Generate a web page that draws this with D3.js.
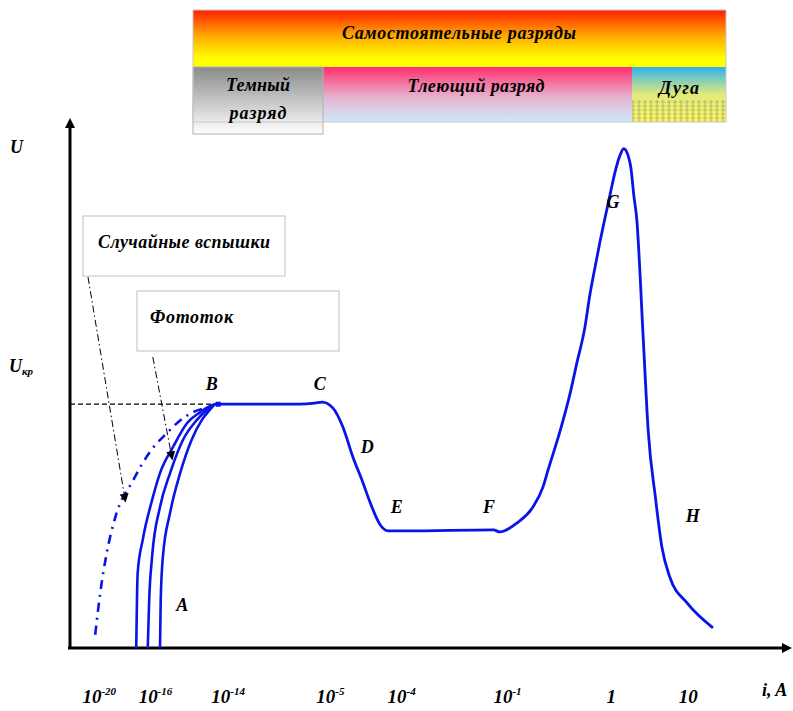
<!DOCTYPE html>
<html>
<head>
<meta charset="utf-8">
<script src="https://cdn.jsdelivr.net/npm/d3@7"></script>
<style>
  body { margin: 0; background: #fff; }
  svg { display: block; }
  text { font-family: "Liberation Serif", "DejaVu Serif", serif; font-style: italic; font-weight: bold; fill: #000; }
</style>
</head>
<body>
<script>
// x: relative log-current position (0..100), y: relative voltage (0..100)
const tickPos = [4.0, 11.8, 21.9, 36.1, 46.0, 60.7, 75.1, 85.8];
const tickBase = ['10', '10', '10', '10', '10', '10', '1', '10'];
const tickExp = ['-20', '-16', '-14', '-5', '-4', '-1', '', ''];

const uBreakdown = 46.0;

// B -> C -> D -> E -> F -> G -> H
const mainCurve = [
  [20.1, 46.0], [31.9, 46.0], [34.0, 46.2], [35.0, 46.4], [36.5, 45.3], [37.9, 41.7],
  [39.3, 36.0], [40.6, 31.5], [41.7, 27.4], [43.1, 23.2], [44.2, 22.1], [46.8, 22.1],
  [58.8, 22.3], [59.7, 21.9], [62.1, 23.6], [64.3, 26.6], [65.7, 30.4], [66.4, 33.6],
  [68.1, 41.1], [69.4, 47.7], [70.4, 53.8], [71.5, 60.4], [72.2, 66.6], [72.9, 71.7],
  [73.6, 76.6], [74.3, 81.1], [75.0, 85.5], [75.7, 89.8], [76.4, 93.0], [76.9, 94.2],
  [77.5, 93.0], [77.9, 90.6], [78.3, 85.5], [78.75, 80.4], [79.2, 69.8], [79.45, 62.8],
  [79.7, 56.2], [80.3, 41.1], [81.3, 28.5], [82.2, 19.1], [83.3, 13.4], [85.7, 8.5],
  [89.3, 3.8]
];

// photocurrent curves (A -> B)
const photoCurves = [
  [[9.2, 0], [9.3, 9.1], [9.4, 14.2], [10.1, 20.4], [11.4, 27.9], [12.5, 33.0], [14.3, 37.9], [16.3, 42.5], [18.1, 44.5], [19.2, 45.5], [20.1, 46.0]],
  [[10.8, 0], [11.0, 9.1], [11.4, 17.2], [12.5, 26.6], [13.9, 33.0], [15.7, 39.3], [17.6, 43.0], [19.0, 44.9], [20.1, 46.0]],
  [[12.5, 0], [12.6, 9.1], [12.9, 17.2], [13.9, 25.5], [15.3, 33.0], [16.9, 39.3], [18.3, 43.0], [19.4, 44.9], [20.1, 46.0]]
];

// random bursts curve (dash-dot)
const burstCurve = [
  [3.5, 2.5], [4.2, 10.4], [5.1, 17.9], [6.3, 24.7], [8.8, 31.7], [10.1, 34.9],
  [11.5, 37.7], [13.5, 40.6], [15.0, 42.6], [17.1, 44.5], [19.0, 45.3]
];

const pointLabels = ['A', 'B', 'C', 'D', 'E', 'F', 'G', 'H'];
const pointLabelPos = [[15.6, 7.0], [19.7, 48.6], [34.7, 48.6], [41.3, 36.7], [45.4, 25.4], [58.2, 25.4], [75.4, 83.0], [86.5, 23.8]];

const notes = ['Случайные вспышки', 'Фототок'];
const noteArrows = [[[2.5, 70.0], [7.7, 27.6]], [[11.5, 54.9], [14.2, 35.6]]];

const W = 793, H = 711;
const x = d3.scaleLinear().domain([0, 100]).range([70, 790]);
const y = d3.scaleLinear().domain([0, 100]).range([648, 118]);

const svg = d3.select('body').append('svg')
  .attr('width', W)
  .attr('height', H);

svg.append('rect').attr('width', W).attr('height', H).attr('fill', '#fff');

const defs = svg.append('defs');

function vGrad(id, stops) {
  const g = defs.append('linearGradient').attr('id', id)
    .attr('x1', 0).attr('y1', 0).attr('x2', 0).attr('y2', 1);
  stops.forEach(s => g.append('stop').attr('offset', s[0]).attr('stop-color', s[1]));
}
vGrad('gSelf', [[0, '#ff1e00'], [0.45, '#ffa800'], [0.85, '#ffff00'], [1, '#ffff00']]);
vGrad('gDark', [[0, '#8a8a8a'], [1, '#ffffff']]);
vGrad('gGlow', [[0, '#ff2d6e'], [0.55, '#e7b4d0'], [1, '#cde8fa']]);
vGrad('gArc', [[0, '#2eb2ee'], [0.5, '#e2ea7a'], [1, '#f7f35a']]);

const pat = defs.append('pattern').attr('id', 'dots')
  .attr('width', 6).attr('height', 4).attr('patternUnits', 'userSpaceOnUse');
pat.append('circle').attr('cx', 3).attr('cy', 2).attr('r', 1.2)
  .attr('fill', 'none').attr('stroke', '#9a9a70').attr('stroke-width', 0.7);

defs.append('marker').attr('id', 'arrow')
  .attr('viewBox', '0 0 10 10').attr('refX', 9).attr('refY', 5)
  .attr('markerWidth', 9).attr('markerHeight', 9)
  .attr('markerUnits', 'userSpaceOnUse')
  .attr('orient', 'auto')
  .append('path').attr('d', 'M0,0 L10,5 L0,10 z').attr('fill', '#000');

// ---- banner of discharge types
const banner = svg.append('g');
banner.append('rect').attr('x', 193).attr('y', 10).attr('width', 533).attr('height', 57)
  .attr('fill', 'url(#gSelf)');
banner.append('rect').attr('x', 323).attr('y', 67).attr('width', 309).attr('height', 55)
  .attr('fill', 'url(#gGlow)');
banner.append('rect').attr('x', 632).attr('y', 67).attr('width', 94).attr('height', 55)
  .attr('fill', 'url(#gArc)');
banner.append('rect').attr('x', 632).attr('y', 100).attr('width', 94).attr('height', 22)
  .attr('fill', 'url(#dots)');
banner.append('rect').attr('x', 193).attr('y', 67).attr('width', 130).attr('height', 67)
  .attr('fill', 'url(#gDark)').attr('stroke', '#b0b0b0').attr('stroke-width', 1);
banner.append('rect').attr('x', 193).attr('y', 10).attr('width', 533).attr('height', 112)
  .attr('fill', 'none').attr('stroke', '#c8c8c8').attr('stroke-width', 1);

banner.append('text').attr('x', 459).attr('y', 39).attr('text-anchor', 'middle')
  .attr('font-size', 18).attr('textLength', 234).text('Самостоятельные разряды');
banner.append('text').attr('x', 476).attr('y', 92).attr('text-anchor', 'middle')
  .attr('font-size', 18).attr('textLength', 137).text('Тлеющий разряд');
banner.append('text').attr('x', 679).attr('y', 94).attr('text-anchor', 'middle')
  .attr('font-size', 18).attr('textLength', 40).text('Дуга');
banner.append('text').attr('x', 258).attr('y', 91).attr('text-anchor', 'middle')
  .attr('font-size', 18).attr('textLength', 64).text('Темный');
banner.append('text').attr('x', 258).attr('y', 119).attr('text-anchor', 'middle')
  .attr('font-size', 18).attr('textLength', 57).text('разряд');

// ---- axes
const xAxis = d3.axisBottom(x).tickValues(tickPos).tickSize(0).tickFormat('');
const gx = svg.append('g').attr('transform', `translate(0,${y(0)})`).call(xAxis);
gx.select('.domain').attr('stroke', '#000').attr('stroke-width', 3)
  .attr('d', `M${x(0) - 2},0H${x(100) - 6}`);
gx.selectAll('.tick text').remove();
gx.selectAll('.tick').append('text')
  .attr('y', 55)
  .attr('text-anchor', 'middle')
  .attr('font-size', 19)
  .each(function(d, i) {
    const t = d3.select(this);
    t.append('tspan').text(tickBase[i]);
    if (tickExp[i]) {
      t.append('tspan').attr('dy', -8).attr('font-size', 11).text(tickExp[i]);
    }
  });
svg.append('path')
  .attr('d', `M${x(100) - 8},${y(0) - 5}L${x(100) + 2},${y(0)}L${x(100) - 8},${y(0) + 5}Z`)
  .attr('fill', '#000');

svg.append('line')
  .attr('x1', x(0)).attr('x2', x(0))
  .attr('y1', y(0) + 1).attr('y2', y(100) + 8)
  .attr('stroke', '#000').attr('stroke-width', 3);
svg.append('path')
  .attr('d', `M${x(0) - 5},${y(100) + 10}L${x(0)},${y(100)}L${x(0) + 5},${y(100) + 10}Z`)
  .attr('fill', '#000');

svg.append('text').attr('x', 762).attr('y', 696).attr('font-size', 18).text('i, A');
svg.append('text').attr('x', 10).attr('y', 153).attr('font-size', 18).text('U');
const ukr = svg.append('text').attr('x', 9).attr('y', 372).attr('font-size', 18);
ukr.append('tspan').text('U');
ukr.append('tspan').attr('dy', 3).attr('font-size', 11).text('кр');

// ---- breakdown voltage level
svg.append('line')
  .attr('x1', x(0)).attr('x2', x(mainCurve[0][0]))
  .attr('y1', y(uBreakdown)).attr('y2', y(uBreakdown))
  .attr('stroke', '#000').attr('stroke-width', 1.3)
  .attr('stroke-dasharray', '5,3');

// ---- curves
const line = d3.line().x(d => x(d[0])).y(d => y(d[1]));

svg.append('path').datum(burstCurve)
  .attr('d', line.curve(d3.curveMonotoneX))
  .attr('fill', 'none').attr('stroke', '#0a14e6').attr('stroke-width', 2.6)
  .attr('stroke-dasharray', '9,6,2,6');

svg.selectAll('.photo').data(photoCurves).enter()
  .append('path').attr('class', 'photo')
  .attr('d', line.curve(d3.curveMonotoneX))
  .attr('fill', 'none').attr('stroke', '#0a14e6').attr('stroke-width', 2.6);

svg.append('path').datum(mainCurve)
  .attr('d', line.curve(d3.curveMonotoneX))
  .attr('fill', 'none').attr('stroke', '#0a14e6').attr('stroke-width', 2.8);

svg.append('rect')
  .attr('x', x(mainCurve[0][0]) + 1).attr('y', y(uBreakdown) - 2.5)
  .attr('width', 5).attr('height', 5).attr('fill', '#0a14e6');

svg.selectAll('.plabel').data(pointLabels).enter()
  .append('text').attr('class', 'plabel')
  .attr('x', (d, i) => x(pointLabelPos[i][0]))
  .attr('y', (d, i) => y(pointLabelPos[i][1]))
  .attr('text-anchor', 'middle')
  .attr('font-size', 18)
  .text(d => d);

// ---- annotation boxes
const boxes = [[83, 216], [137, 291]];
const noteWidths = [172, 83];
boxes.forEach((b, i) => {
  svg.append('rect').attr('x', b[0]).attr('y', b[1]).attr('width', 202).attr('height', 60)
    .attr('fill', '#fff').attr('stroke', '#c0c0c0').attr('stroke-width', 1);
  svg.append('text').attr('x', b[0] + (i === 0 ? 15 : 13)).attr('y', b[1] + 32)
    .attr('font-size', 18).attr('textLength', noteWidths[i]).text(notes[i]);
});

svg.selectAll('.note-arrow').data(noteArrows).enter()
  .append('line').attr('class', 'note-arrow')
  .attr('x1', d => x(d[0][0])).attr('y1', d => y(d[0][1]))
  .attr('x2', d => x(d[1][0])).attr('y2', d => y(d[1][1]))
  .attr('stroke', '#000').attr('stroke-width', 1)
  .attr('stroke-dasharray', '7,3,1.5,3')
  .attr('marker-end', 'url(#arrow)');
</script>
</body>
</html>
